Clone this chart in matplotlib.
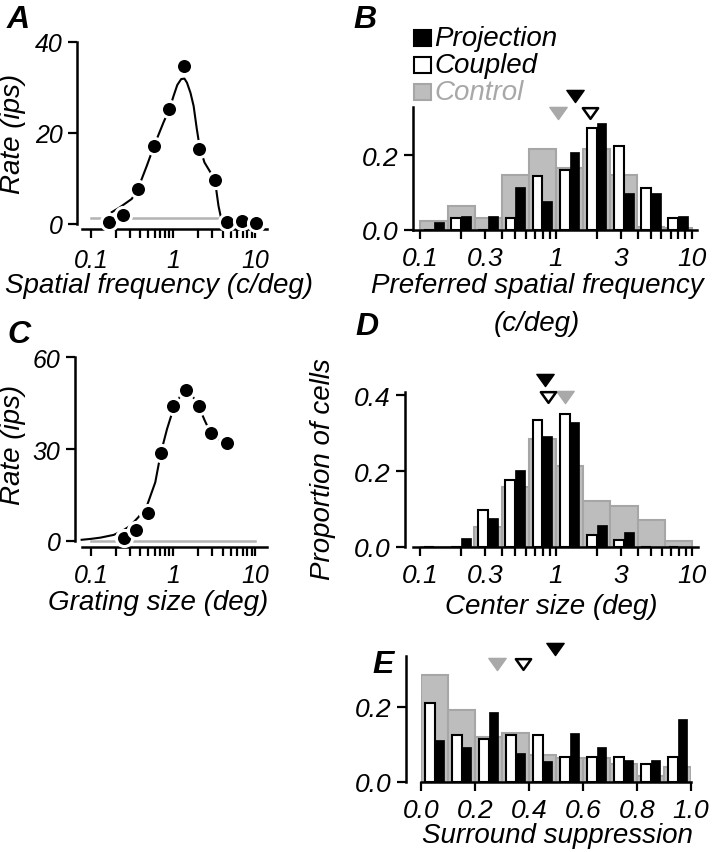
import numpy as np
import matplotlib
matplotlib.use('Agg')
import matplotlib.pyplot as plt
from matplotlib.patches import Rectangle
from matplotlib.path import Path
from matplotlib.ticker import NullLocator

plt.rcParams['font.family'] = ['Liberation Sans', 'DejaVu Sans']
plt.rcParams['font.style'] = 'italic'
plt.rcParams['font.size'] = 20

# ---- A: spatial frequency tuning of one cell
sf_x = [0.164, 0.248, 0.376, 0.58, 0.89, 1.36, 2.07, 3.23, 4.48, 6.85, 10.2]
sf_rate = [0.5, 2.0, 7.7, 17.2, 25.3, 34.7, 16.4, 9.6, 0.4, 0.7, 0.2]
sf_fit_x = [0.179, 0.226, 0.313, 0.372, 0.478, 0.586, 0.762, 0.902, 1.01, 1.12,
            1.25, 1.37, 1.47, 1.62, 1.77, 1.93, 2.09, 2.4, 2.8, 3.25, 3.55, 3.9]
sf_fit_y = [2.6, 3.7, 5.5, 7.7, 12.8, 17.2, 22.3, 25.3, 28.1, 30.5,
            31.8, 31.9, 31.0, 28.8, 25.9, 21.0, 17.0, 13.5, 11.5, 9.0, 4.0, 0.5]
sf_spont = 1.25

# ---- C: size tuning of one cell
sz_x = [0.254, 0.351, 0.50, 0.705, 0.995, 1.445, 2.04, 2.85, 4.49]
sz_rate = [0.9, 3.4, 9.0, 28.6, 44.0, 49.4, 44.0, 35.2, 31.9]
sz_fit_x = [0.077, 0.1, 0.13, 0.16, 0.189, 0.24, 0.301, 0.38, 0.48, 0.605, 0.705,
            0.84, 0.995, 1.22, 1.445, 1.7, 2.04, 2.4, 2.85, 3.5, 4.49]
sz_fit_y = [0.3, 0.6, 1.0, 1.5, 1.9, 3.2, 4.9, 7.8, 11.5, 19.1, 28.6,
            36.5, 42.8, 47.4, 49.4, 47.5, 44.0, 39.5, 35.2, 33.3, 31.9]
sz_spont = 0.0

# ---- B: preferred spatial frequency (proportion of cells)
log_bins = np.logspace(-1, 1, 11)
psf_projection = [0.022, 0.038, 0.038, 0.116, 0.077, 0.209, 0.286, 0.098, 0.098, 0.038]
psf_coupled = [0.0, 0.032, 0.0, 0.032, 0.145, 0.160, 0.273, 0.225, 0.111, 0.032]
psf_control = [0.023, 0.063, 0.032, 0.147, 0.216, 0.165, 0.216, 0.147, 0.009, 0.006]
psf_median = {'Projection': 1.37, 'Coupled': 1.77, 'Control': 1.04}

# ---- D: center size
cs_projection = [0.0, 0.023, 0.076, 0.203, 0.294, 0.329, 0.057, 0.040, 0.0, 0.0]
cs_coupled = [0.0, 0.0, 0.097, 0.177, 0.335, 0.351, 0.032, 0.019, 0.0, 0.0]
cs_control = [0.0, 0.0, 0.051, 0.157, 0.285, 0.214, 0.120, 0.107, 0.071, 0.014]
cs_median = {'Projection': 0.83, 'Coupled': 0.877, 'Control': 1.16}

# ---- E: surround suppression
ss_bins = np.linspace(0, 1, 11)
ss_projection = [0.111, 0.093, 0.185, 0.076, 0.056, 0.130, 0.093, 0.058, 0.058, 0.167]
ss_coupled = [0.209, 0.125, 0.114, 0.125, 0.125, 0.065, 0.065, 0.065, 0.047, 0.065]
ss_control = [0.285, 0.191, 0.120, 0.129, 0.071, 0.062, 0.062, 0.047, 0.016, 0.038]
ss_median = {'Projection': 0.496, 'Coupled': 0.377, 'Control': 0.28}

GRAY = '#bdbdbd'
GRAY_EDGE = '#a6a6a6'
GRAY_TRI = '#a9a9a9'

W, H = 713, 853
fig = plt.figure(figsize=(W / 100, H / 100), dpi=100)


def box(x0, y0, x1, y1):
    # pixel box (top-left origin) -> figure rect
    return [x0 / W, 1 - y1 / H, (x1 - x0) / W, (y1 - y0) / H]


def style(ax, left_out=0, bottom_out=0, tick_fs=19, xpad=5):
    for s in ['top', 'right']:
        ax.spines[s].set_visible(False)
    for s in ['left', 'bottom']:
        ax.spines[s].set_linewidth(1.8)
    ax.spines['left'].set_position(('outward', left_out))
    ax.spines['bottom'].set_position(('outward', bottom_out))
    ax.tick_params(direction='out', length=6.5, width=1.6, labelsize=tick_fs)
    ax.tick_params(axis='x', pad=xpad)
    ax.tick_params(axis='y', pad=4)
    ax.patch.set_visible(False)


def log_ticks(ax, labelled):
    ticks = [m * 10.0 ** e for e in (-1, 0) for m in range(1, 10)] + [10.0]
    ax.set_xticks(ticks)
    labs = []
    for t in ticks:
        hit = [l for l in labelled if np.isclose(t, float(l))]
        labs.append(hit[0] if hit else '')
    ax.set_xticklabels(labs)
    ax.xaxis.set_minor_locator(NullLocator())


tri = Path([(-1, 0.7), (1, 0.7), (0, -0.7), (-1, 0.7)],
           [Path.MOVETO, Path.LINETO, Path.LINETO, Path.CLOSEPOLY])


def medians(ax, med, y_proj, y_coup, y_ctrl):
    ax.plot(med['Control'], y_ctrl, marker=tri, ms=12.5, color=GRAY_TRI, mec=GRAY_TRI,
            clip_on=False, zorder=5)
    ax.plot(med['Coupled'], y_coup, marker=tri, ms=11, mfc='white', mec='black', mew=1.8,
            clip_on=False, zorder=5)
    ax.plot(med['Projection'], y_proj, marker=tri, ms=12.5, color='black',
            clip_on=False, zorder=5)


def log_hist(ax, edges, proj, coup, ctrl):
    edges = np.asarray(edges)
    ax.bar(edges[:-1], ctrl, width=np.diff(edges), align='edge', color=GRAY,
           edgecolor=GRAY_EDGE, linewidth=1.5, zorder=1)
    c = np.sqrt(edges[:-1] * edges[1:])
    f = 10 ** 0.072
    ax.bar(c / f, coup, width=c - c / f, align='edge', color='white',
           edgecolor='black', linewidth=1.5, zorder=2)
    ax.bar(c, proj, width=c * f - c, align='edge', color='black',
           edgecolor='black', linewidth=0.5, zorder=3)


# ---------------- A
axA = fig.add_axes(box(81.7, 42.7, 266.7, 225))
style(axA, left_out=3.2, bottom_out=3.6, tick_fs=18, xpad=7)
axA.set_xscale('log')
axA.plot([0.1, 4.5], [sf_spont, sf_spont], color='#b3b3b3', lw=1.8, zorder=1)
axA.plot(sf_fit_x, sf_fit_y, color='black', lw=1.5, zorder=2)
axA.plot(sf_x, sf_rate, 'o', ms=11.6, mfc='black', mec='white', mew=2.2, zorder=3,
         clip_on=False)
axA.set_xlim(0.0771, 13.7)
axA.set_ylim(0, 40)
axA.set_yticks([0, 20, 40])
log_ticks(axA, ['0.1', '1', '10'])

# ---------------- C
axC = fig.add_axes(box(81.7, 358.3, 266.7, 541.7))
style(axC, left_out=4.8, bottom_out=4.8, tick_fs=18)
axC.set_xscale('log')
axC.plot([0.1, 10], [sz_spont, sz_spont], color='#b3b3b3', lw=1.8, zorder=1,
         clip_on=False)
axC.plot(sz_fit_x, sz_fit_y, color='black', lw=1.5, zorder=2, clip_on=False)
axC.plot(sz_x, sz_rate, 'o', ms=11.6, mfc='black', mec='white', mew=2.2, zorder=3,
         clip_on=False)
axC.set_xlim(0.0771, 13.7)
axC.set_ylim(0, 60)
axC.set_yticks([0, 30, 60])
log_ticks(axC, ['0.1', '1', '10'])

# ---------------- B
axB = fig.add_axes(box(413, 108.3, 697, 231))
style(axB)
axB.set_xscale('log')
log_hist(axB, log_bins, psf_projection, psf_coupled, psf_control)
axB.set_xlim(0.0881, 10.97)
axB.set_ylim(0, 0.328)
axB.set_yticks([0.0, 0.2])
axB.set_yticklabels(['0.0', '0.2'])
log_ticks(axB, ['0.1', '0.3', '1', '3', '10'])
medians(axB, psf_median, 0.357, 0.314, 0.314)

# ---------------- D
axD = fig.add_axes(box(413, 392.7, 698, 547.7))
style(axD, left_out=5.8)
axD.set_xscale('log')
log_hist(axD, log_bins, cs_projection, cs_coupled, cs_control)
axD.set_xlim(0.0889, 11.07)
axD.set_ylim(0, 0.41)
axD.set_yticks([0.0, 0.2, 0.4])
axD.set_yticklabels(['0.0', '0.2', '0.4'])
log_ticks(axD, ['0.1', '0.3', '1', '3', '10'])
medians(axD, cs_median, 0.442, 0.395, 0.395)

# ---------------- E
axE = fig.add_axes(box(421, 656.7, 691, 782.7))
style(axE, left_out=11)
ec = (ss_bins[:-1] + ss_bins[1:]) / 2
axE.bar(ss_bins[:-1], ss_control, width=np.diff(ss_bins), align='edge', color=GRAY,
        edgecolor=GRAY_EDGE, linewidth=1.5, zorder=1)
axE.bar(ec - 0.034, ss_coupled, width=0.034, align='edge', color='white',
        edgecolor='black', linewidth=1.5, zorder=2)
axE.bar(ec, ss_projection, width=0.034, align='edge', color='black',
        edgecolor='black', linewidth=0.5, zorder=3)
axE.set_xlim(0, 1)
axE.set_ylim(0, 0.336)
axE.set_xticks([0, 0.2, 0.4, 0.6, 0.8, 1.0])
axE.set_xticklabels(['0.0', '0.2', '0.4', '0.6', '0.8', '1.0'])
axE.set_yticks([0.0, 0.2])
axE.set_yticklabels(['0.0', '0.2'])
medians(axE, ss_median, 0.354, 0.314, 0.314)

# ---------------- legend (panel B)
for (label, fc, ec_, tc), yc in zip([('Projection', 'black', 'black', 'black'),
                                      ('Coupled', 'white', 'black', 'black'),
                                      ('Control', GRAY, GRAY_EDGE, '#a8a8a8')],
                                     [38.5, 66, 93]):
    fig.add_artist(Rectangle((414 / W, 1 - (yc + 8) / H), 17 / W, 16 / H,
                             transform=fig.transFigure, facecolor=fc,
                             edgecolor=ec_, linewidth=1.5))
    fig.text(434 / W, 1 - yc / H, label, color=tc, ha='left', va='center')


def ftext(x, y, s, **kw):
    fig.text(x / W, 1 - y / H, s, **kw)


# axis labels
ftext(13, 134, 'Rate (ips)', rotation=90, ha='center', va='center')
ftext(13, 445, 'Rate (ips)', rotation=90, ha='center', va='center')
ftext(323, 469, 'Proportion of cells', rotation=90, ha='center', va='center')
ftext(159, 293, 'Spatial frequency (c/deg)', ha='center', va='baseline')
ftext(537, 293, 'Preferred spatial frequency', ha='center', va='baseline')
ftext(537, 331, '(c/deg)', ha='center', va='baseline')
ftext(158, 610, 'Grating size (deg)', ha='center', va='baseline')
ftext(551, 614, 'Center size (deg)', ha='center', va='baseline')
ftext(557, 843, 'Surround suppression', ha='center', va='baseline')

# panel letters
for s, x, y in [('A', 7, 28), ('B', 353, 28), ('C', 7, 343), ('D', 355, 335),
                ('E', 372, 673)]:
    ftext(x, y, s, fontsize=23, fontweight='bold', ha='left', va='baseline')

fig.savefig('out.png', dpi=100)
